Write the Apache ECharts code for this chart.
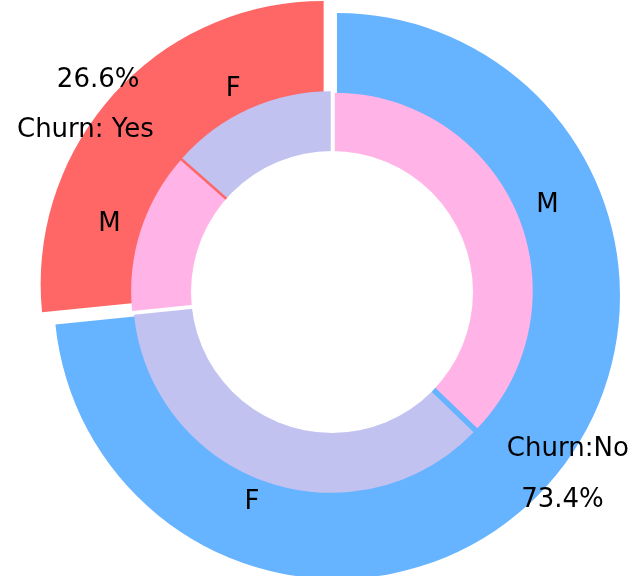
<!DOCTYPE html>
<html>
<head>
<meta charset="utf-8">
<script src="https://cdn.jsdelivr.net/npm/echarts@6/dist/echarts.min.js"></script>
<style>
html, body { margin: 0; padding: 0; background: #fff; }
#main { width: 636px; height: 576px; }
</style>
</head>
<body>
<div id="main"></div>
<script>
// outer ring: churn split, inner ring: gender inside each churn group
const churnNames = ['Churn: Yes', 'Churn:No'];
const churnShare = [26.6, 73.4];
const genderNames = ['F', 'M', 'F', 'M'];
const genderShare = [13.5, 13.1, 36.2, 37.2];

const churnColors = ['#ff6666', '#66b3ff'];
const genderColors = ['#c2c2f0', '#ffb3e6', '#c2c2f0', '#ffb3e6'];

const outerCenter = [337, 296];
const innerCenter = [332, 292];
const FONT = 'DejaVu Sans';
const CLEAR = 'rgba(0,0,0,0)';

function churnData(colored) {
    return churnNames.map((name, i) => ({
        name: name,
        value: churnShare[i],
        selected: i === 0,
        itemStyle: { color: colored ? churnColors[i] : CLEAR, borderWidth: 0 }
    }));
}

function genderData(colored, selected) {
    return genderNames.map((name, i) => ({
        name: name,
        value: genderShare[i],
        selected: selected,
        itemStyle: { color: colored ? genderColors[i] : CLEAR, borderWidth: 0 }
    }));
}

const base = {
    type: 'pie',
    startAngle: 90,
    clockwise: false,
    silent: true,
    avoidLabelOverlap: false,
    emphasis: { disabled: true },
    label: { show: false },
    labelLine: { show: false }
};

const outsideLabel = {
    show: true,
    position: 'outside',
    fontFamily: FONT,
    fontSize: 26,
    color: '#000',
    distanceToLabelLine: 0
};
const noLine = { show: false, length: 0, length2: 0 };

const myChart = echarts.init(document.getElementById('main'));
myChart.setOption({
    animation: false,
    backgroundColor: '#fff',
    series: [
        Object.assign({}, base, {
            name: 'churn', z: 1,
            center: outerCenter, radius: [0, 283],
            selectedMode: 'single', selectedOffset: 18,
            data: churnData(true)
        }),
        Object.assign({}, base, {
            name: 'gender', z: 2,
            center: innerCenter, radius: [0, 198],
            selectedMode: 'multiple', selectedOffset: 3,
            data: genderData(true, true)
        }),
        Object.assign({}, base, {
            name: 'hole', z: 3,
            center: innerCenter, radius: [0, 141],
            data: [{ value: 1, itemStyle: { color: '#fff', borderWidth: 0 } }]
        }),
        Object.assign({}, base, {
            name: 'churnLabels', z: 4,
            center: outerCenter, radius: [0, 229],
            selectedMode: 'single', selectedOffset: 18,
            label: outsideLabel, labelLine: noLine,
            data: churnData(false)
        }),
        Object.assign({}, base, {
            name: 'churnPct', z: 4,
            center: outerCenter, radius: [294, 308],
            selectedMode: 'single', selectedOffset: 18,
            label: {
                show: true, position: 'inside',
                fontFamily: FONT, fontSize: 26, color: '#000',
                formatter: p => p.value.toFixed(1) + '%'
            },
            data: churnData(false)
        }),
        Object.assign({}, base, {
            name: 'genderLabels', z: 4,
            center: innerCenter, radius: [0, 222],
            label: outsideLabel, labelLine: noLine,
            data: genderData(false, false)
        })
    ]
});
</script>
</body>
</html>
